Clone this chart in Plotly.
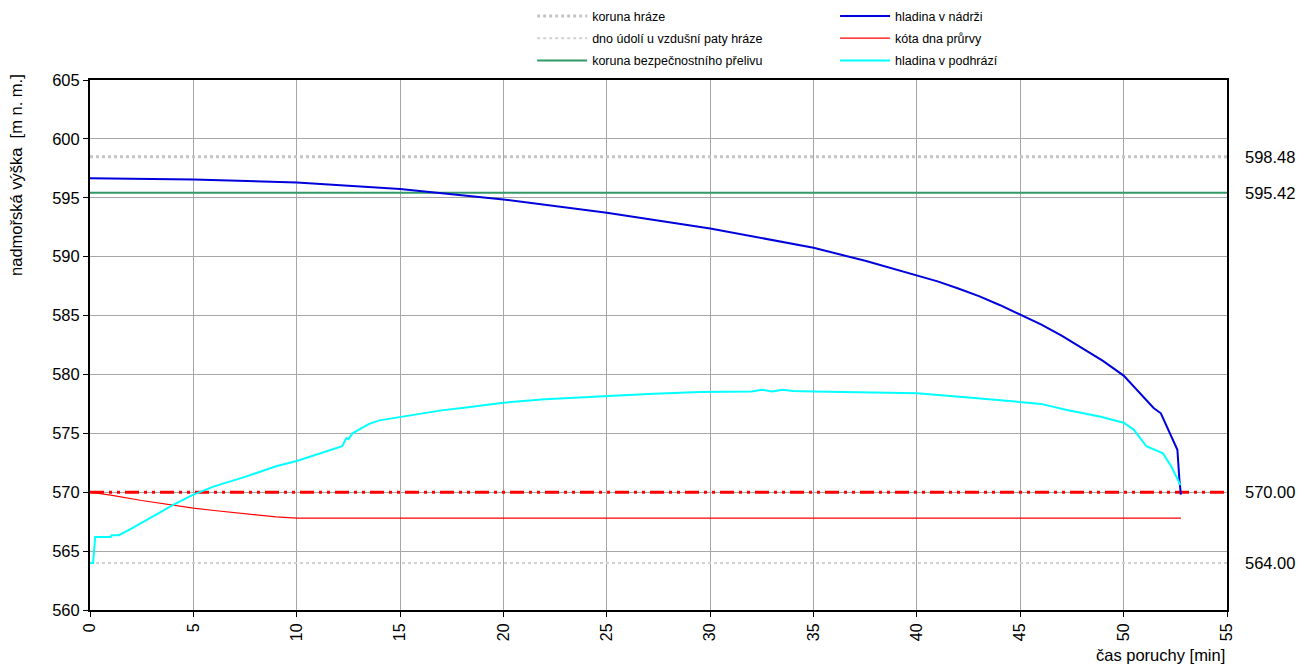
import plotly.graph_objects as go

# ---- data ----
t_nadrz = [0, 5, 10, 15, 20, 25, 30, 35, 37.5, 40, 41, 42, 43, 44, 45, 46, 47, 48, 49, 50,
           50.95, 51.45, 51.8, 52.25, 52.6, 52.7, 52.77]
h_nadrz = [596.65, 596.55, 596.3, 595.75, 594.86, 593.73, 592.4, 590.75, 589.65, 588.44,
           587.9, 587.3, 586.65, 585.9, 585.1, 584.25, 583.3, 582.25, 581.15, 579.9,
           578.1, 577.15, 576.7, 575.0, 573.6, 571.0, 569.8]

t_pruvra = [0, 1, 2.5, 4, 5, 6, 7.5, 9, 10, 52.77]
h_pruvra = [570.0, 569.75, 569.3, 568.9, 568.65, 568.45, 568.15, 567.9, 567.8, 567.8]

t_podhr = [0, 0.15, 0.25, 1.0, 1.05, 1.4, 2.0, 3.0, 4.0, 5.0, 6.0, 7.5, 9.0, 10.0, 11.0,
           12.2, 12.4, 12.5, 12.7, 13.0, 13.5, 14.0, 15.0, 16.0, 17.0, 18.0, 19.0, 20.0,
           22.0, 25.0, 27.0, 29.5, 32.0, 32.5, 33.0, 33.5, 34.0, 35.0, 37.5, 40.0, 42.5,
           45.0, 46.0, 47.2, 48.9, 50.0, 50.5, 51.1, 51.5, 51.9, 52.3, 52.75]
h_podhr = [564.0, 564.0, 566.2, 566.2, 566.35, 566.35, 566.9, 567.9, 568.9, 569.8, 570.5,
           571.3, 572.2, 572.65, 573.2,
           573.9, 574.6, 574.5, 575.0, 575.3, 575.8, 576.1, 576.4, 576.7, 576.95, 577.15,
           577.35, 577.6,
           577.9, 578.2, 578.35, 578.5, 578.55, 578.7, 578.55, 578.7, 578.6, 578.55, 578.5,
           578.4, 578.05,
           577.7, 577.5, 577.0, 576.4, 575.9, 575.3, 573.9, 573.6, 573.3, 572.2, 570.6]

koruna_hraze = 598.48
dno_udoli = 564.00
koruna_prelivu = 595.42
kota_570 = 570.00
x_span = [0, 55]

right_labels = ["598.48", "595.42", "570.00", "564.00"]
right_values = [koruna_hraze, koruna_prelivu, kota_570, dno_udoli]

x_ticks = list(range(0, 56, 5))
y_ticks = list(range(560, 606, 5))

FONT = "Liberation Sans, Arial, sans-serif"
BIG = 16.5

fig = go.Figure()

# legend 1
fig.add_trace(go.Scatter(x=x_span, y=[koruna_hraze] * 2, mode="lines",
                         name="koruna hráze", legend="legend", legendgroup="a",
                         line=dict(color="#c4c4c4", width=3, dash="dot")))
fig.add_trace(go.Scatter(x=x_span, y=[dno_udoli] * 2, mode="lines",
                         name="dno údolí u vzdušní paty hráze", legend="legend",
                         legendgroup="b",
                         line=dict(color="#d0d0d0", width=2, dash="dot")))
fig.add_trace(go.Scatter(x=x_span, y=[koruna_prelivu] * 2, mode="lines",
                         name="koruna bezpečnostního přelivu", legend="legend",
                         legendgroup="c",
                         line=dict(color="#339966", width=2)))

# dash-dot line at 570 (not in legend)
fig.add_trace(go.Scatter(x=x_span, y=[kota_570] * 2, mode="lines", showlegend=False,
                         line=dict(color="#ff0000", width=3,
                                   dash="14px,5px,3px,5px,3px,5px")))

# legend 2
fig.add_trace(go.Scatter(x=t_nadrz, y=h_nadrz, mode="lines", name="hladina v nádrži",
                         legend="legend2", legendgroup="d",
                         line=dict(color="#0000dd", width=2)))
fig.add_trace(go.Scatter(x=t_pruvra, y=h_pruvra, mode="lines", name="kóta dna průrvy",
                         legend="legend2", legendgroup="e",
                         line=dict(color="#ff0000", width=1.2)))
fig.add_trace(go.Scatter(x=t_podhr, y=h_podhr, mode="lines", name="hladina v podhrází",
                         legend="legend2", legendgroup="f",
                         line=dict(color="#00ffff", width=2)))

for lab, val in zip(right_labels, right_values):
    fig.add_annotation(x=1.014, xref="paper", y=val, yref="y", text=lab,
                       showarrow=False, xanchor="left", yanchor="middle",
                       font=dict(size=BIG, color="#000000", family=FONT))

fig.add_annotation(x=1.0, xref="paper", y=-0.085, yref="paper",
                   text="čas poruchy [min]", showarrow=False,
                   xanchor="right", yanchor="middle",
                   font=dict(size=BIG, color="#000000", family=FONT))

fig.add_annotation(x=-0.065, xref="paper", y=0.821, yref="paper",
                   text="nadmořská výška  [m n. m.]", showarrow=False, textangle=-90,
                   xanchor="center", yanchor="middle",
                   font=dict(size=BIG, color="#000000", family=FONT))

leg_common = dict(orientation="v", yanchor="top", xanchor="left",
                  xref="container", yref="container", groupclick="toggleitem",
                  bgcolor="rgba(0,0,0,0)", font=dict(size=12.5, family=FONT, color="#000"),
                  itemwidth=50, tracegroupgap=3)

fig.update_layout(
    width=1314, height=668,
    margin=dict(l=90, r=87, t=80, b=58, autoexpand=False),
    paper_bgcolor="white", plot_bgcolor="white",
    font=dict(family=FONT, size=BIG, color="#000000"),
    legend=dict(x=0.405, y=0.998, **leg_common),
    legend2=dict(x=0.6355, y=0.998, **leg_common),
    xaxis=dict(range=[0, 55], tickvals=x_ticks, tickangle=-90,
               showgrid=True, gridcolor="#a6a6a6", gridwidth=1,
               showline=True, linecolor="#000000", linewidth=2, mirror=True,
               ticks="outside", ticklen=5, tickcolor="#000", zeroline=False,
               automargin=False, tickfont=dict(size=16, family=FONT)),
    yaxis=dict(range=[560, 605], tickvals=y_ticks,
               showgrid=True, gridcolor="#a6a6a6", gridwidth=1,
               showline=True, linecolor="#000000", linewidth=2, mirror=True,
               ticks="outside", ticklen=5, tickcolor="#000", zeroline=False,
               automargin=False, tickfont=dict(size=BIG, family=FONT)),
)

fig.write_html("out.html", config={"displayModeBar": False},
               post_script="document.body.style.margin='0';")
